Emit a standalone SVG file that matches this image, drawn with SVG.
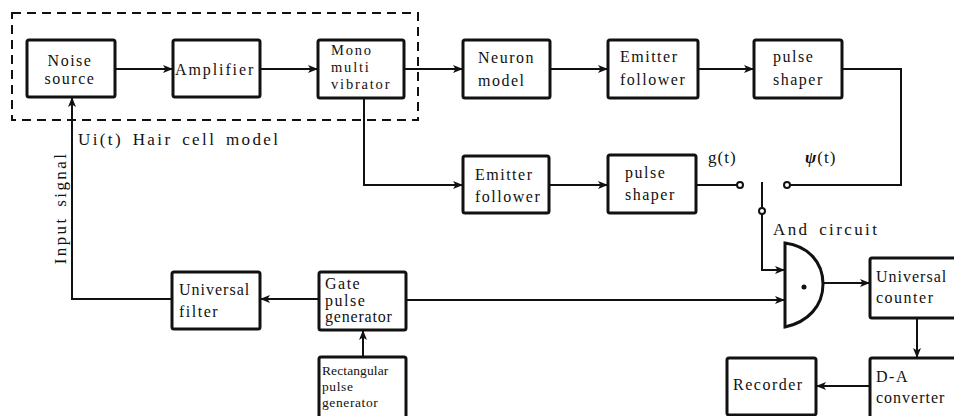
<svg xmlns="http://www.w3.org/2000/svg" width="954" height="416" viewBox="0 0 954 416">
<style>
.box{fill:#fff;stroke:#111;stroke-width:3;}
.t{font-family:"Liberation Serif","DejaVu Serif",serif;font-size:16px;letter-spacing:1.5px;fill:#111;}
.s{font-size:14.5px;letter-spacing:1.8px;}
.r{font-size:13.5px;letter-spacing:0.6px;}
.lbl{font-family:"Liberation Serif","DejaVu Serif",serif;font-size:17px;fill:#111;letter-spacing:2.4px;word-spacing:3px;}
.c{fill:none;stroke:#111;stroke-width:2;}
.dash{fill:none;stroke:#111;stroke-width:2;stroke-dasharray:9 6;}
.term{fill:#fff;stroke:#111;stroke-width:2;}
</style>
<defs>
<marker id="ah" viewBox="0 0 10 8" refX="10" refY="4" markerWidth="10" markerHeight="8" markerUnits="userSpaceOnUse" orient="auto">
<path d="M0,0 L10,4 L0,8 L2.5,4 Z" fill="#111"/>
</marker>
</defs>
<rect width="954" height="416" fill="#fff"/>
<rect class="dash" x="12" y="13" width="406" height="107"/>
<g id="connectors">
<line class="c" x1="115" y1="69" x2="173" y2="69" marker-end="url(#ah)"/>
<line class="c" x1="260" y1="69" x2="318" y2="69" marker-end="url(#ah)"/>
<line class="c" x1="404" y1="69" x2="463" y2="69" marker-end="url(#ah)"/>
<line class="c" x1="550" y1="69" x2="608" y2="69" marker-end="url(#ah)"/>
<line class="c" x1="698" y1="69" x2="754" y2="69" marker-end="url(#ah)"/>
<polyline class="c" points="842,69 901,69 901,185 790,185"/>
<polyline class="c" points="364,98 364,185 463,185" marker-end="url(#ah)"/>
<line class="c" x1="549" y1="185" x2="608" y2="185" marker-end="url(#ah)"/>
<line class="c" x1="696" y1="185" x2="737" y2="185"/>
<line class="c" x1="762" y1="182" x2="762" y2="208"/>
<polyline class="c" points="762,214 762,270 785,270" marker-end="url(#ah)"/>
<line class="c" x1="406" y1="300" x2="785" y2="300" marker-end="url(#ah)"/>
<line class="c" x1="319" y1="299" x2="260" y2="299" marker-end="url(#ah)"/>
<polyline class="c" points="172,299 72,299 72,97" marker-end="url(#ah)"/>
<line class="c" x1="363" y1="357" x2="363" y2="330" marker-end="url(#ah)"/>
<line class="c" x1="823" y1="283" x2="870" y2="283" marker-end="url(#ah)"/>
<line class="c" x1="917" y1="318" x2="917" y2="358" marker-end="url(#ah)"/>
<line class="c" x1="870" y1="386" x2="816" y2="386" marker-end="url(#ah)"/>
<circle class="term" cx="740" cy="185" r="3"/>
<circle class="term" cx="787" cy="185" r="3"/>
<circle class="term" cx="762" cy="211" r="3"/>
</g>
<g id="noise"><rect class="box" x="27" y="40" width="88" height="57" rx="2"/><text class="t" x="70" y="66" text-anchor="middle">Noise</text><text class="t" x="70" y="84" text-anchor="middle">source</text></g>
<g id="amplifier"><rect class="box" x="173" y="40" width="87" height="57" rx="2"/><text class="t" x="175" y="75" style="letter-spacing:1.9px">Amplifier</text></g>
<g id="mono"><rect class="box" x="318" y="40" width="86" height="58" rx="2"/><text class="t s" x="331" y="55">Mono</text><text class="t s" x="331" y="72">multi</text><text class="t s" x="331" y="89">vibrator</text></g>
<g id="neuron"><rect class="box" x="463" y="40" width="87" height="58" rx="2"/><text class="t" x="478" y="63">Neuron</text><text class="t" x="478" y="86">model</text></g>
<g id="ef1"><rect class="box" x="608" y="40" width="90" height="58" rx="2"/><text class="t" x="620" y="62">Emitter</text><text class="t" x="620" y="85">follower</text></g>
<g id="ps1"><rect class="box" x="754" y="40" width="88" height="58" rx="2"/><text class="t" x="773" y="62">pulse</text><text class="t" x="773" y="85">shaper</text></g>
<g id="ef2"><rect class="box" x="463" y="156" width="86" height="57" rx="2"/><text class="t" x="475" y="180">Emitter</text><text class="t" x="475" y="202">follower</text></g>
<g id="ps2"><rect class="box" x="608" y="155" width="88" height="58" rx="2"/><text class="t" x="625" y="178">pulse</text><text class="t" x="625" y="200">shaper</text></g>
<g id="gate"><path d="M785,243 C808,246 823,262 823,284 C823,306 808,322 785,327 Z" fill="#fff" stroke="#111" stroke-width="3"/><circle cx="804" cy="287" r="2.5" fill="#111"/></g>
<g id="counter"><rect class="box" x="870" y="258" width="100" height="60" rx="2"/><text class="t" x="876" y="282" style="letter-spacing:1px">Universal</text><text class="t" x="876" y="303">counter</text></g>
<g id="da"><rect class="box" x="870" y="358" width="100" height="70" rx="2"/><text class="t" x="876" y="382">D-A</text><text class="t" x="876" y="403" style="letter-spacing:1px">converter</text></g>
<g id="recorder"><rect class="box" x="727" y="358" width="89" height="57" rx="2"/><text class="t" x="733" y="390">Recorder</text></g>
<g id="filter"><rect class="box" x="172" y="272" width="88" height="57" rx="2"/><text class="t" x="179" y="295" style="letter-spacing:1px">Universal</text><text class="t" x="179" y="317">filter</text></g>
<g id="gpg"><rect class="box" x="319" y="272" width="87" height="58" rx="2"/><text class="t" x="325" y="289">Gate</text><text class="t" x="325" y="306">pulse</text><text class="t" x="325" y="322" style="letter-spacing:0.8px">generator</text></g>
<g id="rpg"><rect class="box" x="319" y="357" width="87" height="62" rx="2"/><text class="t r" x="322" y="375" style="letter-spacing:0.1px">Rectangular</text><text class="t r" x="322" y="391">pulse</text><text class="t r" x="322" y="407">generator</text></g>
<text class="lbl" x="78" y="145">Ui(t) Hair cell model</text>
<text class="lbl" transform="translate(66,208) rotate(-90)" text-anchor="middle">Input signal</text>
<text class="lbl" x="708" y="163" style="letter-spacing:1px">g(t)</text>
<text class="lbl" x="805" y="163" style="letter-spacing:1px"><tspan font-weight="bold" font-style="italic">ψ</tspan>(t)</text>
<text class="lbl" x="773" y="235">And circuit</text>
</svg>
